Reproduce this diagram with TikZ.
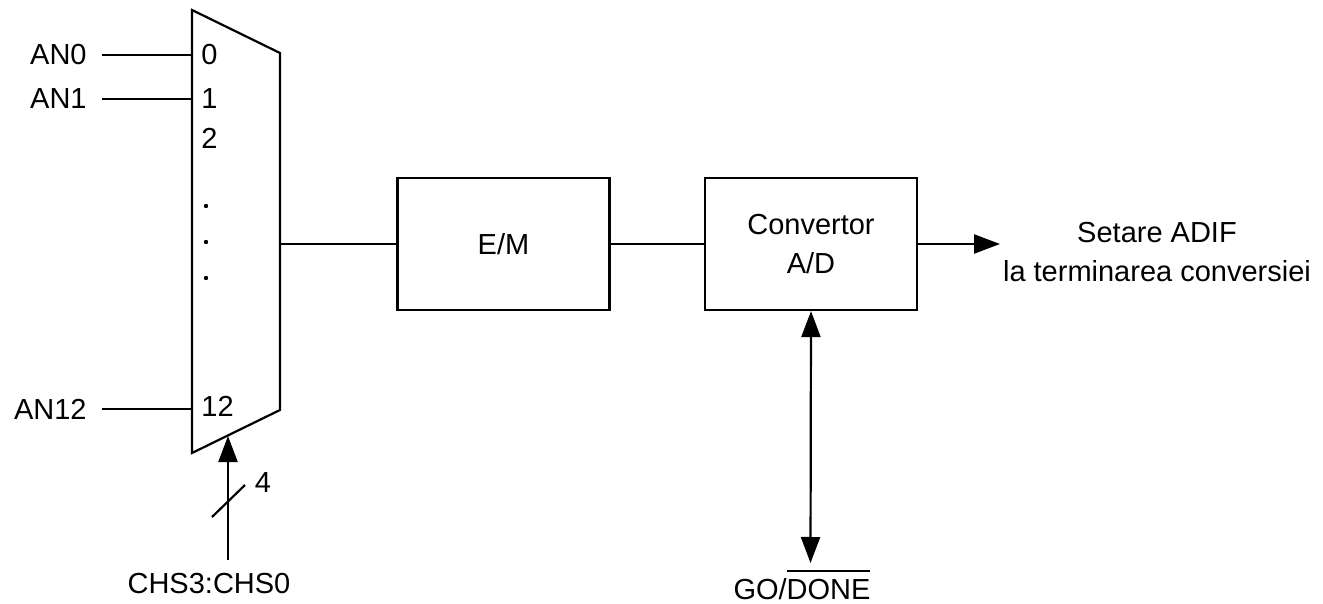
\documentclass[tikz,border=0pt]{standalone}
\usepackage{fontspec}
\setmainfont{Liberation Sans}
\usetikzlibrary{arrows.meta, positioning}

\newlength{\barlen}
\newcommand{\negsig}[1]{\settowidth{\barlen}{#1}\rlap{\rule[13.5pt]{\barlen}{1pt}}#1}

\tikzstyle{block} = [rectangle, minimum width=106pt, minimum height=66pt,
    text centered, align=center, draw=black, line width=1.1pt]
\tikzstyle{sig} = [inner sep=0pt]
\tikzstyle{wire} = [line width=1.1pt]
\tikzstyle{arrow} = [line width=1.1pt, -{Triangle[length=13pt,width=9.5pt]}]
\tikzstyle{dblarrow} = [line width=1.1pt,
    {Triangle[length=13pt,width=9.5pt]}-{Triangle[length=13pt,width=9.5pt]}]

\begin{document}
\begin{tikzpicture}[x=0.5pt, y=-0.5pt, node distance=153.75pt,
    font=\fontsize{14.5}{19.5}\selectfont]
\useasboundingbox (0,0) rectangle (1323,604);

% Multiplexer
\coordinate (muxtl) at (192,10);
\coordinate (muxtr) at (280,53);
\coordinate (muxbr) at (280,410);
\coordinate (muxbl) at (192,453);
\draw [wire] (muxtl) -- (muxtr) -- (muxbr) -- (muxbl) -- cycle;

% Inputs
\node (an0) [sig, inner xsep=7.5pt, anchor=east] at (102,55) {AN0};
\node (an1) [sig, inner xsep=7.5pt, anchor=east] at (102,99) {AN1};
\node (an12) [sig, inner xsep=7.5pt, anchor=east] at (102,409) {AN12};
\node (p0) [sig, anchor=west] at (201,55) {0};
\node (p1) [sig, anchor=west] at (201,99) {1};
\node (p2) [sig, anchor=west] at (201,138) {2};
\node (p12) [sig, anchor=west] at (201,406) {12};
\foreach \y in {206,242,278} \fill (206,\y) circle (2.2);

% Blocks
\coordinate (muxout) at (280,244);
\node (em) [block] at (503.5,244) {E/M};
\node (conv) [block, right of=em] {Convertor\\A/D};
\node (setare) [align=center] at (1157,252) {Setare ADIF\\la terminarea conversiei};
\coordinate (adif) at (1000,244);

% Selection
\coordinate (sel) at (228,436);
\coordinate (selin) at (228,560);
\node (chs) [anchor=base] at (209,593) {CHS3:CHS0};
\node (bus) at (263,483) {4};

% Start / done
\coordinate (goend) at (810.5,563);
\node (go) [anchor=base] at (802,599) {GO/\negsig{DONE}};

% Arrows
\draw [wire] (an0.east) -- (an0.east -| muxtl);
\draw [wire] (an1.east) -- (an1.east -| muxtl);
\draw [wire] (an12.east) -- (an12.east -| muxtl);
\draw [wire] (muxout) -- (em);
\draw [wire] (em) -- (conv);
\draw [arrow] (conv.east) -- (adif);
\draw [arrow] (selin) -- (sel);
\draw [wire] (212,517) -- (245,485);
\draw [dblarrow] (conv.south) -- (goend);

\end{tikzpicture}
\end{document}
